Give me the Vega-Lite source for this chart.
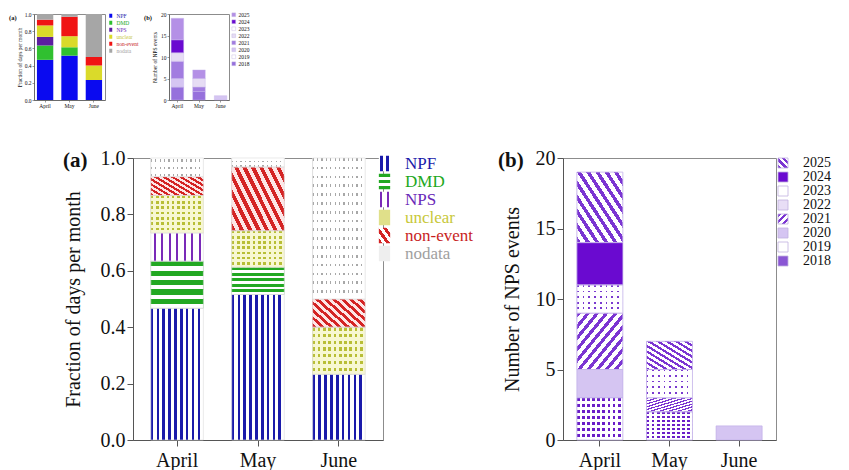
{
  "$schema": "https://vega.github.io/schema/vega-lite/v6.json",
  "background": "white",
  "padding": {"left": 8, "top": 11, "right": 0, "bottom": 0},
  "datasets": {
    "a": [
      {"m": "April", "cat": "NPF", "k": 1, "v": 0.467},
      {"m": "April", "cat": "DMD", "k": 2, "v": 0.167},
      {"m": "April", "cat": "NPS", "k": 3, "v": 0.1},
      {"m": "April", "cat": "unclear", "k": 4, "v": 0.133},
      {"m": "April", "cat": "non-event", "k": 5, "v": 0.067},
      {"m": "April", "cat": "nodata", "k": 6, "v": 0.066},
      {"m": "May", "cat": "NPF", "k": 1, "v": 0.516},
      {"m": "May", "cat": "DMD", "k": 2, "v": 0.097},
      {"m": "May", "cat": "unclear", "k": 4, "v": 0.129},
      {"m": "May", "cat": "non-event", "k": 5, "v": 0.226},
      {"m": "May", "cat": "nodata", "k": 6, "v": 0.032},
      {"m": "June", "cat": "NPF", "k": 1, "v": 0.233},
      {"m": "June", "cat": "unclear", "k": 4, "v": 0.167},
      {"m": "June", "cat": "non-event", "k": 5, "v": 0.1},
      {"m": "June", "cat": "nodata", "k": 6, "v": 0.5}
    ],
    "b": [
      {"m": "April", "year": "2018", "v": 3},
      {"m": "April", "year": "2020", "v": 2},
      {"m": "April", "year": "2021", "v": 4},
      {"m": "April", "year": "2022", "v": 2},
      {"m": "April", "year": "2024", "v": 3},
      {"m": "April", "year": "2025", "v": 5},
      {"m": "May", "year": "2018", "v": 2},
      {"m": "May", "year": "2021", "v": 1},
      {"m": "May", "year": "2022", "v": 2},
      {"m": "May", "year": "2025", "v": 2},
      {"m": "June", "year": "2020", "v": 1}
    ]
  },
  "vconcat": [
    {
      "hconcat": [
        {
          "width": 71,
          "height": 86,
          "data": {"name": "a"},
          "title": {"text": "(a)", "anchor": "start", "frame": "group", "orient": "top", "offset": 0, "dx": -25, "dy": 9, "fontSize": 6.5, "fontWeight": "bold", "font": "Liberation Serif", "color": "#111"},
          "mark": {"type": "bar"},
          "encoding": {
            "x": {"field": "m", "type": "nominal", "sort": ["April", "May", "June"], "scale": {"paddingInner": 0.33, "paddingOuter": 0.12}, "axis": {"title": null, "labelAngle": 0, "labelFontSize": 5.5, "tickSize": 2, "labelPadding": 1, "domainWidth": 0.6, "tickWidth": 0.6}},
            "y": {"field": "v", "type": "quantitative", "stack": "zero", "scale": {"domain": [0, 1], "nice": false}, "axis": {"title": "Fraction of days per month", "values": [0, 0.2, 0.4, 0.6, 0.8, 1], "format": ".1f", "labelFontSize": 5.5, "titleFontSize": 5.5, "tickSize": 2, "labelPadding": 1, "titlePadding": 2, "domainWidth": 0.6, "tickWidth": 0.6}},
            "order": {"field": "k", "type": "quantitative"},
            "fill": {
              "field": "cat", "type": "nominal",
              "scale": {"domain": ["NPF", "DMD", "NPS", "unclear", "non-event", "nodata"], "range": ["#0a0af0", "#30c030", "#5c1ea0", "#dada2a", "#f01414", "#a6a6a6"]},
              "legend": {
                "title": null, "orient": "none", "legendX": 74, "legendY": -1, "padding": 0,
                "labelFont": "Liberation Serif", "labelFontSize": 5.5, "labelOffset": 3, "labelLimit": 100,
                "symbolType": "M-0.75,-1H0.75V1H-0.75Z", "symbolSize": 16, "symbolStrokeWidth": 0, "rowPadding": 0,
                "encode": {"labels": {"update": {"fill": {"signal": "datum.value==='NPF'?'#1a1aaa':datum.value==='DMD'?'#22a822':datum.value==='NPS'?'#6a28b8':datum.value==='unclear'?'#c8c83a':datum.value==='non-event'?'#c81e1e':'#a0a0a0'"}}}}
              }
            }
          }
        },
        {
          "width": 60,
          "height": 86,
          "data": {"name": "b"},
          "title": {"text": "(b)", "anchor": "start", "frame": "group", "orient": "top", "offset": 0, "dx": -25, "dy": 9, "fontSize": 6.5, "fontWeight": "bold", "font": "Liberation Serif", "color": "#111"},
          "mark": {"type": "bar", "stroke": "#c4b2ea", "strokeWidth": 0.4},
          "encoding": {
            "x": {"field": "m", "type": "nominal", "sort": ["April", "May", "June"], "scale": {"paddingInner": 0.42, "paddingOuter": 0.1}, "axis": {"title": null, "labelAngle": 0, "labelFontSize": 5.5, "tickSize": 2, "labelPadding": 1, "domainWidth": 0.6, "tickWidth": 0.6}},
            "y": {"field": "v", "type": "quantitative", "stack": "zero", "scale": {"domain": [0, 20], "nice": false}, "axis": {"title": "Number of NPS events", "values": [0, 5, 10, 15, 20], "labelFontSize": 5.5, "titleFontSize": 5.5, "tickSize": 2, "labelPadding": 1, "titlePadding": 3, "domainWidth": 0.6, "tickWidth": 0.6}},
            "order": {"field": "year", "type": "ordinal"},
            "fill": {
              "field": "year", "type": "nominal",
              "scale": {"domain": ["2025", "2024", "2023", "2022", "2021", "2020", "2019", "2018"], "range": ["#b490e6", "#6a0ad0", "#ffffff", "#e6dcf4", "#a27ce0", "#d5c5f2", "#ffffff", "#9670dc"]},
              "legend": {
                "title": null, "orient": "none", "legendX": 62, "legendY": -2, "padding": 0,
                "labelFont": "Liberation Serif", "labelFontSize": 5.5, "labelOffset": 2, "labelColor": "#111",
                "symbolType": "square", "symbolSize": 14, "symbolStrokeColor": "#c0b0e0", "symbolStrokeWidth": 0.4, "rowPadding": 0
              }
            }
          }
        }
      ],
      "spacing": 64,
      "bounds": "flush",
      "resolve": {"scale": {"fill": "independent"}, "legend": {"fill": "independent"}}
    },
    {
      "hconcat": [
        {"width": 1, "height": 1, "view": {"stroke": null}, "data": {"values": []}, "mark": "point", "encoding": {}},
        {
          "hconcat": [
            {
              "width": 250,
              "height": 282,
              "data": {"name": "a"},
              "title": {"text": "(a)", "anchor": "start", "frame": "group", "orient": "top", "offset": 0, "dx": -70, "dy": 23, "fontSize": 21, "fontWeight": "bold", "font": "Liberation Serif", "color": "#111"},
              "resolve": {"scale": {"fill": "independent"}, "legend": {"fill": "independent"}},
              "layer": [
                {
                  "mark": {"type": "bar"},
                  "encoding": {
                    "x": {"field": "m", "type": "nominal", "sort": ["April", "May", "June"], "scale": {"paddingInner": 0.35, "paddingOuter": 0.22}, "axis": {"title": null, "labelAngle": 0, "labelPadding": 4}},
                    "y": {"field": "v", "type": "quantitative", "stack": "zero", "scale": {"domain": [0, 1], "nice": false}, "axis": {"title": "Fraction of days per month", "values": [0, 0.1, 0.2, 0.3, 0.4, 0.5, 0.6, 0.7, 0.8, 0.9, 1], "labelExpr": "round(datum.value*10) % 2 == 0 ? format(datum.value, '.1f') : ''", "labelPadding": 2, "titlePadding": 17}},
                    "order": {"field": "k", "type": "quantitative"},
                    "fill": {
                      "field": "cat", "type": "nominal",
                      "scale": {
                        "domain": ["NPF", "DMD", "NPS", "unclear", "non-event", "nodata"],
                        "range": [
                          {"expr": "{gradient:'linear',x1:0,y1:0,x2:1,y2:0,stops:[{offset:0,color:'#fff'},{offset:0.1,color:'#fff'},{offset:0.1,color:'#1a1aaa'},{offset:0.4,color:'#1a1aaa'},{offset:0.4,color:'#fff'},{offset:0.6,color:'#fff'},{offset:0.6,color:'#1a1aaa'},{offset:0.9,color:'#1a1aaa'},{offset:0.9,color:'#fff'},{offset:1,color:'#fff'}]}"},
                          {"expr": "{gradient:'linear',x1:0,y1:0,x2:0,y2:1,stops:[{offset:0,color:'#22a822'},{offset:0.22,color:'#22a822'},{offset:0.22,color:'#fff'},{offset:0.39,color:'#fff'},{offset:0.39,color:'#22a822'},{offset:0.61,color:'#22a822'},{offset:0.61,color:'#fff'},{offset:0.78,color:'#fff'},{offset:0.78,color:'#22a822'},{offset:1,color:'#22a822'}]}"},
                          {"expr": "{gradient:'linear',x1:0,y1:0,x2:1,y2:0,stops:[{offset:0,color:'#fff'},{offset:0.1,color:'#fff'},{offset:0.1,color:'#7a2ab8'},{offset:0.3,color:'#7a2ab8'},{offset:0.3,color:'#fff'},{offset:0.7,color:'#fff'},{offset:0.7,color:'#7a2ab8'},{offset:0.9,color:'#7a2ab8'},{offset:0.9,color:'#fff'},{offset:1,color:'#fff'}]}"},
                          "#e0e08a",
                          {"expr": "{gradient:'linear',x1:0,y1:1,x2:1,y2:0,stops:[{offset:0,color:'#d42424'},{offset:0.17,color:'#d42424'},{offset:0.17,color:'#fff'},{offset:0.33,color:'#fff'},{offset:0.33,color:'#d42424'},{offset:0.5,color:'#d42424'},{offset:0.5,color:'#fff'},{offset:0.67,color:'#fff'},{offset:0.67,color:'#d42424'},{offset:0.83,color:'#d42424'},{offset:0.83,color:'#fff'},{offset:1,color:'#fff'}]}"},
                          "#eeeeee"
                        ]
                      },
                      "legend": {
                        "title": null, "orient": "none", "legendX": 243, "legendY": -3, "padding": 0,
                        "labelFont": "Liberation Serif", "labelFontSize": 17, "labelOffset": 12, "labelLimit": 300,
                        "symbolType": "M-0.73,-1H0.73V1H-0.73Z", "symbolSize": 240, "symbolStrokeWidth": 0, "rowPadding": 0,
                        "encode": {
                          "labels": {"update": {"fill": {"signal": "datum.value==='NPF'?'#1a1aaa':datum.value==='DMD'?'#22a822':datum.value==='NPS'?'#6a28b8':datum.value==='unclear'?'#c8c83a':datum.value==='non-event'?'#c81e1e':'#a0a0a0'"}}}
                        }
                      }
                    }
                  }
                },
                {
                  "mark": {"type": "bar"},
                  "encoding": {
                    "x": {"field": "m", "type": "nominal", "sort": ["April", "May", "June"]},
                    "y": {"field": "v", "type": "quantitative", "stack": "zero"},
                    "order": {"field": "k", "type": "quantitative"},
                    "fill": {
                      "field": "cat", "type": "nominal", "legend": null,
                      "scale": {
                        "domain": ["NPF", "DMD", "NPS", "unclear", "non-event", "nodata"],
                        "range": [
                          {"expr": "{gradient:'linear',x1:0,y1:0,x2:1,y2:0,stops:[{offset:0,color:'#1a1aaa'},{offset:0.05,color:'#1a1aaa'},{offset:0.05,color:'#fff'},{offset:0.1111,color:'#fff'},{offset:0.1111,color:'#1a1aaa'},{offset:0.1611,color:'#1a1aaa'},{offset:0.1611,color:'#fff'},{offset:0.2222,color:'#fff'},{offset:0.2222,color:'#1a1aaa'},{offset:0.2722,color:'#1a1aaa'},{offset:0.2722,color:'#fff'},{offset:0.3333,color:'#fff'},{offset:0.3333,color:'#1a1aaa'},{offset:0.3833,color:'#1a1aaa'},{offset:0.3833,color:'#fff'},{offset:0.4444,color:'#fff'},{offset:0.4444,color:'#1a1aaa'},{offset:0.4944,color:'#1a1aaa'},{offset:0.4944,color:'#fff'},{offset:0.5556,color:'#fff'},{offset:0.5556,color:'#1a1aaa'},{offset:0.6056,color:'#1a1aaa'},{offset:0.6056,color:'#fff'},{offset:0.6667,color:'#fff'},{offset:0.6667,color:'#1a1aaa'},{offset:0.7167,color:'#1a1aaa'},{offset:0.7167,color:'#fff'},{offset:0.7778,color:'#fff'},{offset:0.7778,color:'#1a1aaa'},{offset:0.8278,color:'#1a1aaa'},{offset:0.8278,color:'#fff'},{offset:0.8889,color:'#fff'},{offset:0.8889,color:'#1a1aaa'},{offset:0.9389,color:'#1a1aaa'},{offset:0.9389,color:'#fff'},{offset:1,color:'#fff'}]}"},
                          {"expr": "{gradient:'linear',x1:0,y1:0,x2:0,y2:1,stops:[{offset:0,color:'#22a822'},{offset:0.11,color:'#22a822'},{offset:0.11,color:'#fff'},{offset:0.2,color:'#fff'},{offset:0.2,color:'#22a822'},{offset:0.31,color:'#22a822'},{offset:0.31,color:'#fff'},{offset:0.4,color:'#fff'},{offset:0.4,color:'#22a822'},{offset:0.51,color:'#22a822'},{offset:0.51,color:'#fff'},{offset:0.6,color:'#fff'},{offset:0.6,color:'#22a822'},{offset:0.71,color:'#22a822'},{offset:0.71,color:'#fff'},{offset:0.8,color:'#fff'},{offset:0.8,color:'#22a822'},{offset:0.91,color:'#22a822'},{offset:0.91,color:'#fff'},{offset:1,color:'#fff'}]}"},
                          {"expr": "{gradient:'linear',x1:0,y1:0,x2:1,y2:0,stops:[{offset:0,color:'#fff'},{offset:0.0514,color:'#fff'},{offset:0.0514,color:'#7a2ab8'},{offset:0.0914,color:'#7a2ab8'},{offset:0.0914,color:'#fff'},{offset:0.1943,color:'#fff'},{offset:0.1943,color:'#7a2ab8'},{offset:0.2343,color:'#7a2ab8'},{offset:0.2343,color:'#fff'},{offset:0.3371,color:'#fff'},{offset:0.3371,color:'#7a2ab8'},{offset:0.3771,color:'#7a2ab8'},{offset:0.3771,color:'#fff'},{offset:0.48,color:'#fff'},{offset:0.48,color:'#7a2ab8'},{offset:0.52,color:'#7a2ab8'},{offset:0.52,color:'#fff'},{offset:0.6229,color:'#fff'},{offset:0.6229,color:'#7a2ab8'},{offset:0.6629,color:'#7a2ab8'},{offset:0.6629,color:'#fff'},{offset:0.7657,color:'#fff'},{offset:0.7657,color:'#7a2ab8'},{offset:0.8057,color:'#7a2ab8'},{offset:0.8057,color:'#fff'},{offset:0.9086,color:'#fff'},{offset:0.9086,color:'#7a2ab8'},{offset:0.9486,color:'#7a2ab8'},{offset:0.9486,color:'#fff'},{offset:1,color:'#fff'}]}"},
                          {"expr": "{gradient:'linear',x1:0,y1:0,x2:1,y2:0,stops:[{offset:0,color:'#b8be36'},{offset:0.05,color:'#b8be36'},{offset:0.05,color:'#f7f7d2'},{offset:0.1,color:'#f7f7d2'},{offset:0.1,color:'#b8be36'},{offset:0.15,color:'#b8be36'},{offset:0.15,color:'#f7f7d2'},{offset:0.2,color:'#f7f7d2'},{offset:0.2,color:'#b8be36'},{offset:0.25,color:'#b8be36'},{offset:0.25,color:'#f7f7d2'},{offset:0.3,color:'#f7f7d2'},{offset:0.3,color:'#b8be36'},{offset:0.35,color:'#b8be36'},{offset:0.35,color:'#f7f7d2'},{offset:0.4,color:'#f7f7d2'},{offset:0.4,color:'#b8be36'},{offset:0.45,color:'#b8be36'},{offset:0.45,color:'#f7f7d2'},{offset:0.5,color:'#f7f7d2'},{offset:0.5,color:'#b8be36'},{offset:0.55,color:'#b8be36'},{offset:0.55,color:'#f7f7d2'},{offset:0.6,color:'#f7f7d2'},{offset:0.6,color:'#b8be36'},{offset:0.65,color:'#b8be36'},{offset:0.65,color:'#f7f7d2'},{offset:0.7,color:'#f7f7d2'},{offset:0.7,color:'#b8be36'},{offset:0.75,color:'#b8be36'},{offset:0.75,color:'#f7f7d2'},{offset:0.8,color:'#f7f7d2'},{offset:0.8,color:'#b8be36'},{offset:0.85,color:'#b8be36'},{offset:0.85,color:'#f7f7d2'},{offset:0.9,color:'#f7f7d2'},{offset:0.9,color:'#b8be36'},{offset:0.95,color:'#b8be36'},{offset:0.95,color:'#f7f7d2'},{offset:1,color:'#f7f7d2'}]}"},
                          {"expr": "{gradient:'linear',x1:0,y1:1,x2:1.176,y2:0.294,stops:[{offset:0,color:'#d42424'},{offset:0.05,color:'#d42424'},{offset:0.05,color:'#fde6e6'},{offset:0.1,color:'#fde6e6'},{offset:0.1,color:'#d42424'},{offset:0.15,color:'#d42424'},{offset:0.15,color:'#fde6e6'},{offset:0.2,color:'#fde6e6'},{offset:0.2,color:'#d42424'},{offset:0.25,color:'#d42424'},{offset:0.25,color:'#fde6e6'},{offset:0.3,color:'#fde6e6'},{offset:0.3,color:'#d42424'},{offset:0.35,color:'#d42424'},{offset:0.35,color:'#fde6e6'},{offset:0.4,color:'#fde6e6'},{offset:0.4,color:'#d42424'},{offset:0.45,color:'#d42424'},{offset:0.45,color:'#fde6e6'},{offset:0.5,color:'#fde6e6'},{offset:0.5,color:'#d42424'},{offset:0.55,color:'#d42424'},{offset:0.55,color:'#fde6e6'},{offset:0.6,color:'#fde6e6'},{offset:0.6,color:'#d42424'},{offset:0.65,color:'#d42424'},{offset:0.65,color:'#fde6e6'},{offset:0.7,color:'#fde6e6'},{offset:0.7,color:'#d42424'},{offset:0.75,color:'#d42424'},{offset:0.75,color:'#fde6e6'},{offset:0.8,color:'#fde6e6'},{offset:0.8,color:'#d42424'},{offset:0.85,color:'#d42424'},{offset:0.85,color:'#fde6e6'},{offset:0.9,color:'#fde6e6'},{offset:0.9,color:'#d42424'},{offset:0.95,color:'#d42424'},{offset:0.95,color:'#fde6e6'},{offset:1,color:'#fde6e6'}]}"},
                          {"expr": "{gradient:'linear',x1:0,y1:0,x2:1,y2:0,stops:[{offset:0,color:'#a8a8a8'},{offset:0.025,color:'#a8a8a8'},{offset:0.025,color:'#fff'},{offset:0.0833,color:'#fff'},{offset:0.0833,color:'#a8a8a8'},{offset:0.1083,color:'#a8a8a8'},{offset:0.1083,color:'#fff'},{offset:0.1667,color:'#fff'},{offset:0.1667,color:'#a8a8a8'},{offset:0.1917,color:'#a8a8a8'},{offset:0.1917,color:'#fff'},{offset:0.25,color:'#fff'},{offset:0.25,color:'#a8a8a8'},{offset:0.275,color:'#a8a8a8'},{offset:0.275,color:'#fff'},{offset:0.3333,color:'#fff'},{offset:0.3333,color:'#a8a8a8'},{offset:0.3583,color:'#a8a8a8'},{offset:0.3583,color:'#fff'},{offset:0.4167,color:'#fff'},{offset:0.4167,color:'#a8a8a8'},{offset:0.4417,color:'#a8a8a8'},{offset:0.4417,color:'#fff'},{offset:0.5,color:'#fff'},{offset:0.5,color:'#a8a8a8'},{offset:0.525,color:'#a8a8a8'},{offset:0.525,color:'#fff'},{offset:0.5833,color:'#fff'},{offset:0.5833,color:'#a8a8a8'},{offset:0.6083,color:'#a8a8a8'},{offset:0.6083,color:'#fff'},{offset:0.6667,color:'#fff'},{offset:0.6667,color:'#a8a8a8'},{offset:0.6917,color:'#a8a8a8'},{offset:0.6917,color:'#fff'},{offset:0.75,color:'#fff'},{offset:0.75,color:'#a8a8a8'},{offset:0.775,color:'#a8a8a8'},{offset:0.775,color:'#fff'},{offset:0.8333,color:'#fff'},{offset:0.8333,color:'#a8a8a8'},{offset:0.8583,color:'#a8a8a8'},{offset:0.8583,color:'#fff'},{offset:0.9167,color:'#fff'},{offset:0.9167,color:'#a8a8a8'},{offset:0.9417,color:'#a8a8a8'},{offset:0.9417,color:'#fff'},{offset:1,color:'#fff'}]}"}
                        ]
                      }
                    }
                  }
                },
                {
                  "mark": {"type": "bar", "stroke": "#dcdcdc", "strokeWidth": 0.6},
                  "encoding": {
                    "x": {"field": "m", "type": "nominal", "sort": ["April", "May", "June"]},
                    "y": {"field": "v", "type": "quantitative", "stack": "zero"},
                    "detail": {"field": "cat", "type": "nominal"},
                    "order": {"field": "k", "type": "quantitative"},
                    "fill": {
                      "condition": [
                        {"test": "datum.cat==='unclear'", "value": {"gradient": "linear", "x1": 0, "y1": 0, "x2": 0, "y2": 1, "stops": [
                          {"offset": 0, "color": "rgba(247,247,210,0)"}, {"offset": 0.0714, "color": "rgba(247,247,210,0)"}, {"offset": 0.0714, "color": "#f7f7d2"}, {"offset": 0.1429, "color": "#f7f7d2"},
                          {"offset": 0.1429, "color": "rgba(247,247,210,0)"}, {"offset": 0.2143, "color": "rgba(247,247,210,0)"}, {"offset": 0.2143, "color": "#f7f7d2"}, {"offset": 0.2857, "color": "#f7f7d2"},
                          {"offset": 0.2857, "color": "rgba(247,247,210,0)"}, {"offset": 0.3571, "color": "rgba(247,247,210,0)"}, {"offset": 0.3571, "color": "#f7f7d2"}, {"offset": 0.4286, "color": "#f7f7d2"},
                          {"offset": 0.4286, "color": "rgba(247,247,210,0)"}, {"offset": 0.5, "color": "rgba(247,247,210,0)"}, {"offset": 0.5, "color": "#f7f7d2"}, {"offset": 0.5714, "color": "#f7f7d2"},
                          {"offset": 0.5714, "color": "rgba(247,247,210,0)"}, {"offset": 0.6429, "color": "rgba(247,247,210,0)"}, {"offset": 0.6429, "color": "#f7f7d2"}, {"offset": 0.7143, "color": "#f7f7d2"},
                          {"offset": 0.7143, "color": "rgba(247,247,210,0)"}, {"offset": 0.7857, "color": "rgba(247,247,210,0)"}, {"offset": 0.7857, "color": "#f7f7d2"}, {"offset": 0.8571, "color": "#f7f7d2"},
                          {"offset": 0.8571, "color": "rgba(247,247,210,0)"}, {"offset": 0.9286, "color": "rgba(247,247,210,0)"}, {"offset": 0.9286, "color": "#f7f7d2"}, {"offset": 1, "color": "#f7f7d2"}]}},
                        {"test": "datum.cat==='nodata'", "value": {"gradient": "linear", "x1": 0, "y1": 0, "x2": 0, "y2": 1, "stops": [
                          {"offset": 0, "color": "rgba(255,255,255,0)"}, {"offset": 0.0188, "color": "rgba(255,255,255,0)"}, {"offset": 0.0188, "color": "#ffffff"}, {"offset": 0.0625, "color": "#ffffff"},
                          {"offset": 0.0625, "color": "rgba(255,255,255,0)"}, {"offset": 0.0813, "color": "rgba(255,255,255,0)"}, {"offset": 0.0813, "color": "#ffffff"}, {"offset": 0.125, "color": "#ffffff"},
                          {"offset": 0.125, "color": "rgba(255,255,255,0)"}, {"offset": 0.1438, "color": "rgba(255,255,255,0)"}, {"offset": 0.1438, "color": "#ffffff"}, {"offset": 0.1875, "color": "#ffffff"},
                          {"offset": 0.1875, "color": "rgba(255,255,255,0)"}, {"offset": 0.2063, "color": "rgba(255,255,255,0)"}, {"offset": 0.2063, "color": "#ffffff"}, {"offset": 0.25, "color": "#ffffff"},
                          {"offset": 0.25, "color": "rgba(255,255,255,0)"}, {"offset": 0.2688, "color": "rgba(255,255,255,0)"}, {"offset": 0.2688, "color": "#ffffff"}, {"offset": 0.3125, "color": "#ffffff"},
                          {"offset": 0.3125, "color": "rgba(255,255,255,0)"}, {"offset": 0.3313, "color": "rgba(255,255,255,0)"}, {"offset": 0.3313, "color": "#ffffff"}, {"offset": 0.375, "color": "#ffffff"},
                          {"offset": 0.375, "color": "rgba(255,255,255,0)"}, {"offset": 0.3938, "color": "rgba(255,255,255,0)"}, {"offset": 0.3938, "color": "#ffffff"}, {"offset": 0.4375, "color": "#ffffff"},
                          {"offset": 0.4375, "color": "rgba(255,255,255,0)"}, {"offset": 0.4563, "color": "rgba(255,255,255,0)"}, {"offset": 0.4563, "color": "#ffffff"}, {"offset": 0.5, "color": "#ffffff"},
                          {"offset": 0.5, "color": "rgba(255,255,255,0)"}, {"offset": 0.5188, "color": "rgba(255,255,255,0)"}, {"offset": 0.5188, "color": "#ffffff"}, {"offset": 0.5625, "color": "#ffffff"},
                          {"offset": 0.5625, "color": "rgba(255,255,255,0)"}, {"offset": 0.5813, "color": "rgba(255,255,255,0)"}, {"offset": 0.5813, "color": "#ffffff"}, {"offset": 0.625, "color": "#ffffff"},
                          {"offset": 0.625, "color": "rgba(255,255,255,0)"}, {"offset": 0.6438, "color": "rgba(255,255,255,0)"}, {"offset": 0.6438, "color": "#ffffff"}, {"offset": 0.6875, "color": "#ffffff"},
                          {"offset": 0.6875, "color": "rgba(255,255,255,0)"}, {"offset": 0.7063, "color": "rgba(255,255,255,0)"}, {"offset": 0.7063, "color": "#ffffff"}, {"offset": 0.75, "color": "#ffffff"},
                          {"offset": 0.75, "color": "rgba(255,255,255,0)"}, {"offset": 0.7688, "color": "rgba(255,255,255,0)"}, {"offset": 0.7688, "color": "#ffffff"}, {"offset": 0.8125, "color": "#ffffff"},
                          {"offset": 0.8125, "color": "rgba(255,255,255,0)"}, {"offset": 0.8313, "color": "rgba(255,255,255,0)"}, {"offset": 0.8313, "color": "#ffffff"}, {"offset": 0.875, "color": "#ffffff"},
                          {"offset": 0.875, "color": "rgba(255,255,255,0)"}, {"offset": 0.8938, "color": "rgba(255,255,255,0)"}, {"offset": 0.8938, "color": "#ffffff"}, {"offset": 0.9375, "color": "#ffffff"},
                          {"offset": 0.9375, "color": "rgba(255,255,255,0)"}, {"offset": 0.9563, "color": "rgba(255,255,255,0)"}, {"offset": 0.9563, "color": "#ffffff"}, {"offset": 1, "color": "#ffffff"}]}}
                      ],
                      "value": "transparent"
                    }
                  }
                }
              ]
            },
            {
              "width": 213,
              "height": 282,
              "data": {"name": "b"},
              "title": {"text": "(b)", "anchor": "start", "frame": "group", "orient": "top", "offset": 0, "dx": -65, "dy": 23, "fontSize": 21, "fontWeight": "bold", "font": "Liberation Serif", "color": "#111"},
              "resolve": {"scale": {"fill": "independent"}, "legend": {"fill": "independent"}},
              "layer": [
                {
                  "mark": {"type": "bar"},
                  "encoding": {
                    "x": {"field": "m", "type": "nominal", "sort": ["April", "May", "June"], "scale": {"paddingInner": 0.34, "paddingOuter": 0.2}, "axis": {"title": null, "labelAngle": 0, "labelPadding": 4}},
                    "y": {"field": "v", "type": "quantitative", "stack": "zero", "scale": {"domain": [0, 20], "nice": false}, "axis": {"title": "Number of NPS events", "values": [0, 5, 10, 15, 20], "labelPadding": 2, "titlePadding": 13}},
                    "order": {"field": "year", "type": "ordinal"},
                    "fill": {
                      "field": "year", "type": "nominal",
                      "scale": {
                        "domain": ["2025", "2024", "2023", "2022", "2021", "2020", "2019", "2018"],
                        "range": [
                          {"expr": "{gradient:'linear',x1:0,y1:1,x2:1,y2:0,stops:[{offset:0,color:'#7b35d2'},{offset:0.17,color:'#7b35d2'},{offset:0.17,color:'#fff'},{offset:0.33,color:'#fff'},{offset:0.33,color:'#7b35d2'},{offset:0.5,color:'#7b35d2'},{offset:0.5,color:'#fff'},{offset:0.67,color:'#fff'},{offset:0.67,color:'#7b35d2'},{offset:0.83,color:'#7b35d2'},{offset:0.83,color:'#fff'},{offset:1,color:'#fff'}]}"},
                          "#6a0ad0",
                          "#ffffff",
                          "#e8def6",
                          {"expr": "{gradient:'linear',x1:0,y1:0,x2:1,y2:1,stops:[{offset:0,color:'#7b35d2'},{offset:0.17,color:'#7b35d2'},{offset:0.17,color:'#fff'},{offset:0.33,color:'#fff'},{offset:0.33,color:'#7b35d2'},{offset:0.5,color:'#7b35d2'},{offset:0.5,color:'#fff'},{offset:0.67,color:'#fff'},{offset:0.67,color:'#7b35d2'},{offset:0.83,color:'#7b35d2'},{offset:0.83,color:'#fff'},{offset:1,color:'#fff'}]}"},
                          "#d5c5f2",
                          "#ffffff",
                          "#8a56d4"
                        ]
                      },
                      "legend": {
                        "title": null, "orient": "none", "legendX": 213, "legendY": -2, "padding": 0,
                        "labelFont": "Liberation Serif", "labelFontSize": 14, "labelOffset": 13, "labelColor": "#111",
                        "symbolType": "square", "symbolSize": 100, "symbolStrokeColor": "#c0b0e0", "symbolStrokeWidth": 0.8, "rowPadding": 0
                      }
                    }
                  }
                },
                {
                  "mark": {"type": "bar"},
                  "encoding": {
                    "x": {"field": "m", "type": "nominal", "sort": ["April", "May", "June"]},
                    "y": {"field": "v", "type": "quantitative", "stack": "zero"},
                    "order": {"field": "year", "type": "ordinal"},
                    "fill": {
                      "field": "year", "type": "nominal", "legend": null,
                      "scale": {
                        "domain": ["2025", "2024", "2023", "2022", "2021", "2020", "2019", "2018"],
                        "range": [
                          {"expr": "{gradient:'linear',x1:0,y1:1,x2:1,y2:0,stops:[{offset:0,color:'#7b35d2'},{offset:0.045,color:'#7b35d2'},{offset:0.045,color:'#fff'},{offset:0.1,color:'#fff'},{offset:0.1,color:'#7b35d2'},{offset:0.145,color:'#7b35d2'},{offset:0.145,color:'#fff'},{offset:0.2,color:'#fff'},{offset:0.2,color:'#7b35d2'},{offset:0.245,color:'#7b35d2'},{offset:0.245,color:'#fff'},{offset:0.3,color:'#fff'},{offset:0.3,color:'#7b35d2'},{offset:0.345,color:'#7b35d2'},{offset:0.345,color:'#fff'},{offset:0.4,color:'#fff'},{offset:0.4,color:'#7b35d2'},{offset:0.445,color:'#7b35d2'},{offset:0.445,color:'#fff'},{offset:0.5,color:'#fff'},{offset:0.5,color:'#7b35d2'},{offset:0.545,color:'#7b35d2'},{offset:0.545,color:'#fff'},{offset:0.6,color:'#fff'},{offset:0.6,color:'#7b35d2'},{offset:0.645,color:'#7b35d2'},{offset:0.645,color:'#fff'},{offset:0.7,color:'#fff'},{offset:0.7,color:'#7b35d2'},{offset:0.745,color:'#7b35d2'},{offset:0.745,color:'#fff'},{offset:0.8,color:'#fff'},{offset:0.8,color:'#7b35d2'},{offset:0.845,color:'#7b35d2'},{offset:0.845,color:'#fff'},{offset:0.9,color:'#fff'},{offset:0.9,color:'#7b35d2'},{offset:0.945,color:'#7b35d2'},{offset:0.945,color:'#fff'},{offset:1,color:'#fff'}]}"},
                          "#6a0ad0",
                          "#ffffff",
                          {"expr": "{gradient:'linear',x1:0,y1:0,x2:1,y2:0,stops:[{offset:0,color:'#7a3ad0'},{offset:0.0375,color:'#7a3ad0'},{offset:0.0375,color:'#fff'},{offset:0.125,color:'#fff'},{offset:0.125,color:'#7a3ad0'},{offset:0.1625,color:'#7a3ad0'},{offset:0.1625,color:'#fff'},{offset:0.25,color:'#fff'},{offset:0.25,color:'#7a3ad0'},{offset:0.2875,color:'#7a3ad0'},{offset:0.2875,color:'#fff'},{offset:0.375,color:'#fff'},{offset:0.375,color:'#7a3ad0'},{offset:0.4125,color:'#7a3ad0'},{offset:0.4125,color:'#fff'},{offset:0.5,color:'#fff'},{offset:0.5,color:'#7a3ad0'},{offset:0.5375,color:'#7a3ad0'},{offset:0.5375,color:'#fff'},{offset:0.625,color:'#fff'},{offset:0.625,color:'#7a3ad0'},{offset:0.6625,color:'#7a3ad0'},{offset:0.6625,color:'#fff'},{offset:0.75,color:'#fff'},{offset:0.75,color:'#7a3ad0'},{offset:0.7875,color:'#7a3ad0'},{offset:0.7875,color:'#fff'},{offset:0.875,color:'#fff'},{offset:0.875,color:'#7a3ad0'},{offset:0.9125,color:'#7a3ad0'},{offset:0.9125,color:'#fff'},{offset:1,color:'#fff'}]}"},
                          {"expr": "{gradient:'linear',x1:0,y1:0,x2:1,y2:1,stops:[{offset:0,color:'#7b35d2'},{offset:0.045,color:'#7b35d2'},{offset:0.045,color:'#fff'},{offset:0.1,color:'#fff'},{offset:0.1,color:'#7b35d2'},{offset:0.145,color:'#7b35d2'},{offset:0.145,color:'#fff'},{offset:0.2,color:'#fff'},{offset:0.2,color:'#7b35d2'},{offset:0.245,color:'#7b35d2'},{offset:0.245,color:'#fff'},{offset:0.3,color:'#fff'},{offset:0.3,color:'#7b35d2'},{offset:0.345,color:'#7b35d2'},{offset:0.345,color:'#fff'},{offset:0.4,color:'#fff'},{offset:0.4,color:'#7b35d2'},{offset:0.445,color:'#7b35d2'},{offset:0.445,color:'#fff'},{offset:0.5,color:'#fff'},{offset:0.5,color:'#7b35d2'},{offset:0.545,color:'#7b35d2'},{offset:0.545,color:'#fff'},{offset:0.6,color:'#fff'},{offset:0.6,color:'#7b35d2'},{offset:0.645,color:'#7b35d2'},{offset:0.645,color:'#fff'},{offset:0.7,color:'#fff'},{offset:0.7,color:'#7b35d2'},{offset:0.745,color:'#7b35d2'},{offset:0.745,color:'#fff'},{offset:0.8,color:'#fff'},{offset:0.8,color:'#7b35d2'},{offset:0.845,color:'#7b35d2'},{offset:0.845,color:'#fff'},{offset:0.9,color:'#fff'},{offset:0.9,color:'#7b35d2'},{offset:0.945,color:'#7b35d2'},{offset:0.945,color:'#fff'},{offset:1,color:'#fff'}]}"},
                          "#d5c5f2",
                          "#ffffff",
                          {"expr": "{gradient:'linear',x1:0,y1:0,x2:1,y2:0,stops:[{offset:0,color:'#6a1ec8'},{offset:0.0611,color:'#6a1ec8'},{offset:0.0611,color:'#fff'},{offset:0.1111,color:'#fff'},{offset:0.1111,color:'#6a1ec8'},{offset:0.1722,color:'#6a1ec8'},{offset:0.1722,color:'#fff'},{offset:0.2222,color:'#fff'},{offset:0.2222,color:'#6a1ec8'},{offset:0.2833,color:'#6a1ec8'},{offset:0.2833,color:'#fff'},{offset:0.3333,color:'#fff'},{offset:0.3333,color:'#6a1ec8'},{offset:0.3944,color:'#6a1ec8'},{offset:0.3944,color:'#fff'},{offset:0.4444,color:'#fff'},{offset:0.4444,color:'#6a1ec8'},{offset:0.5056,color:'#6a1ec8'},{offset:0.5056,color:'#fff'},{offset:0.5556,color:'#fff'},{offset:0.5556,color:'#6a1ec8'},{offset:0.6167,color:'#6a1ec8'},{offset:0.6167,color:'#fff'},{offset:0.6667,color:'#fff'},{offset:0.6667,color:'#6a1ec8'},{offset:0.7278,color:'#6a1ec8'},{offset:0.7278,color:'#fff'},{offset:0.7778,color:'#fff'},{offset:0.7778,color:'#6a1ec8'},{offset:0.8389,color:'#6a1ec8'},{offset:0.8389,color:'#fff'},{offset:0.8889,color:'#fff'},{offset:0.8889,color:'#6a1ec8'},{offset:0.95,color:'#6a1ec8'},{offset:0.95,color:'#fff'},{offset:1,color:'#fff'}]}"}
                        ]
                      }
                    }
                  }
                },
                {
                  "mark": {"type": "bar", "stroke": "#c4b2ea", "strokeWidth": 0.8},
                  "encoding": {
                    "x": {"field": "m", "type": "nominal", "sort": ["April", "May", "June"]},
                    "y": {"field": "v", "type": "quantitative", "stack": "zero"},
                    "detail": {"field": "year", "type": "nominal"},
                    "order": {"field": "year", "type": "ordinal"},
                    "fill": {
                      "condition": [
                        {"test": "datum.year==='2022'", "value": {"gradient": "linear", "x1": 0, "y1": 0, "x2": 0, "y2": 1, "stops": [
                          {"offset": 0, "color": "rgba(255,255,255,0)"}, {"offset": 0.06, "color": "rgba(255,255,255,0)"}, {"offset": 0.06, "color": "#ffffff"}, {"offset": 0.2, "color": "#ffffff"},
                          {"offset": 0.2, "color": "rgba(255,255,255,0)"}, {"offset": 0.26, "color": "rgba(255,255,255,0)"}, {"offset": 0.26, "color": "#ffffff"}, {"offset": 0.4, "color": "#ffffff"},
                          {"offset": 0.4, "color": "rgba(255,255,255,0)"}, {"offset": 0.46, "color": "rgba(255,255,255,0)"}, {"offset": 0.46, "color": "#ffffff"}, {"offset": 0.6, "color": "#ffffff"},
                          {"offset": 0.6, "color": "rgba(255,255,255,0)"}, {"offset": 0.66, "color": "rgba(255,255,255,0)"}, {"offset": 0.66, "color": "#ffffff"}, {"offset": 0.8, "color": "#ffffff"},
                          {"offset": 0.8, "color": "rgba(255,255,255,0)"}, {"offset": 0.86, "color": "rgba(255,255,255,0)"}, {"offset": 0.86, "color": "#ffffff"}, {"offset": 1, "color": "#ffffff"}]}},
                        {"test": "datum.year==='2018'", "value": {"gradient": "linear", "x1": 0, "y1": 0, "x2": 0, "y2": 1, "stops": [
                          {"offset": 0, "color": "rgba(255,255,255,0)"}, {"offset": 0.0786, "color": "rgba(255,255,255,0)"}, {"offset": 0.0786, "color": "#ffffff"}, {"offset": 0.1429, "color": "#ffffff"},
                          {"offset": 0.1429, "color": "rgba(255,255,255,0)"}, {"offset": 0.2214, "color": "rgba(255,255,255,0)"}, {"offset": 0.2214, "color": "#ffffff"}, {"offset": 0.2857, "color": "#ffffff"},
                          {"offset": 0.2857, "color": "rgba(255,255,255,0)"}, {"offset": 0.3643, "color": "rgba(255,255,255,0)"}, {"offset": 0.3643, "color": "#ffffff"}, {"offset": 0.4286, "color": "#ffffff"},
                          {"offset": 0.4286, "color": "rgba(255,255,255,0)"}, {"offset": 0.5071, "color": "rgba(255,255,255,0)"}, {"offset": 0.5071, "color": "#ffffff"}, {"offset": 0.5714, "color": "#ffffff"},
                          {"offset": 0.5714, "color": "rgba(255,255,255,0)"}, {"offset": 0.65, "color": "rgba(255,255,255,0)"}, {"offset": 0.65, "color": "#ffffff"}, {"offset": 0.7143, "color": "#ffffff"},
                          {"offset": 0.7143, "color": "rgba(255,255,255,0)"}, {"offset": 0.7929, "color": "rgba(255,255,255,0)"}, {"offset": 0.7929, "color": "#ffffff"}, {"offset": 0.8571, "color": "#ffffff"},
                          {"offset": 0.8571, "color": "rgba(255,255,255,0)"}, {"offset": 0.9357, "color": "rgba(255,255,255,0)"}, {"offset": 0.9357, "color": "#ffffff"}, {"offset": 1, "color": "#ffffff"}]}}
                      ],
                      "value": "transparent"
                    }
                  }
                }
              ]
            }
          ],
          "spacing": 180,
          "bounds": "flush",
          "resolve": {"scale": {"fill": "independent"}, "legend": {"fill": "independent"}}
        }
      ],
      "spacing": 98,
      "bounds": "flush",
      "resolve": {"scale": {"fill": "independent"}, "legend": {"fill": "independent"}}
    }
  ],
  "spacing": 144,
  "bounds": "flush",
  "resolve": {"scale": {"fill": "independent"}, "legend": {"fill": "independent"}},
  "config": {
    "font": "Liberation Serif",
    "view": {"stroke": "#8c8c8c", "strokeWidth": 1},
    "axis": {"labelFont": "Liberation Serif", "titleFont": "Liberation Serif", "labelFontSize": 20, "titleFontSize": 20, "titleFontWeight": "normal", "labelColor": "#111", "titleColor": "#111", "domainColor": "#555", "tickColor": "#555", "tickSize": 6, "grid": false}
  }
}
